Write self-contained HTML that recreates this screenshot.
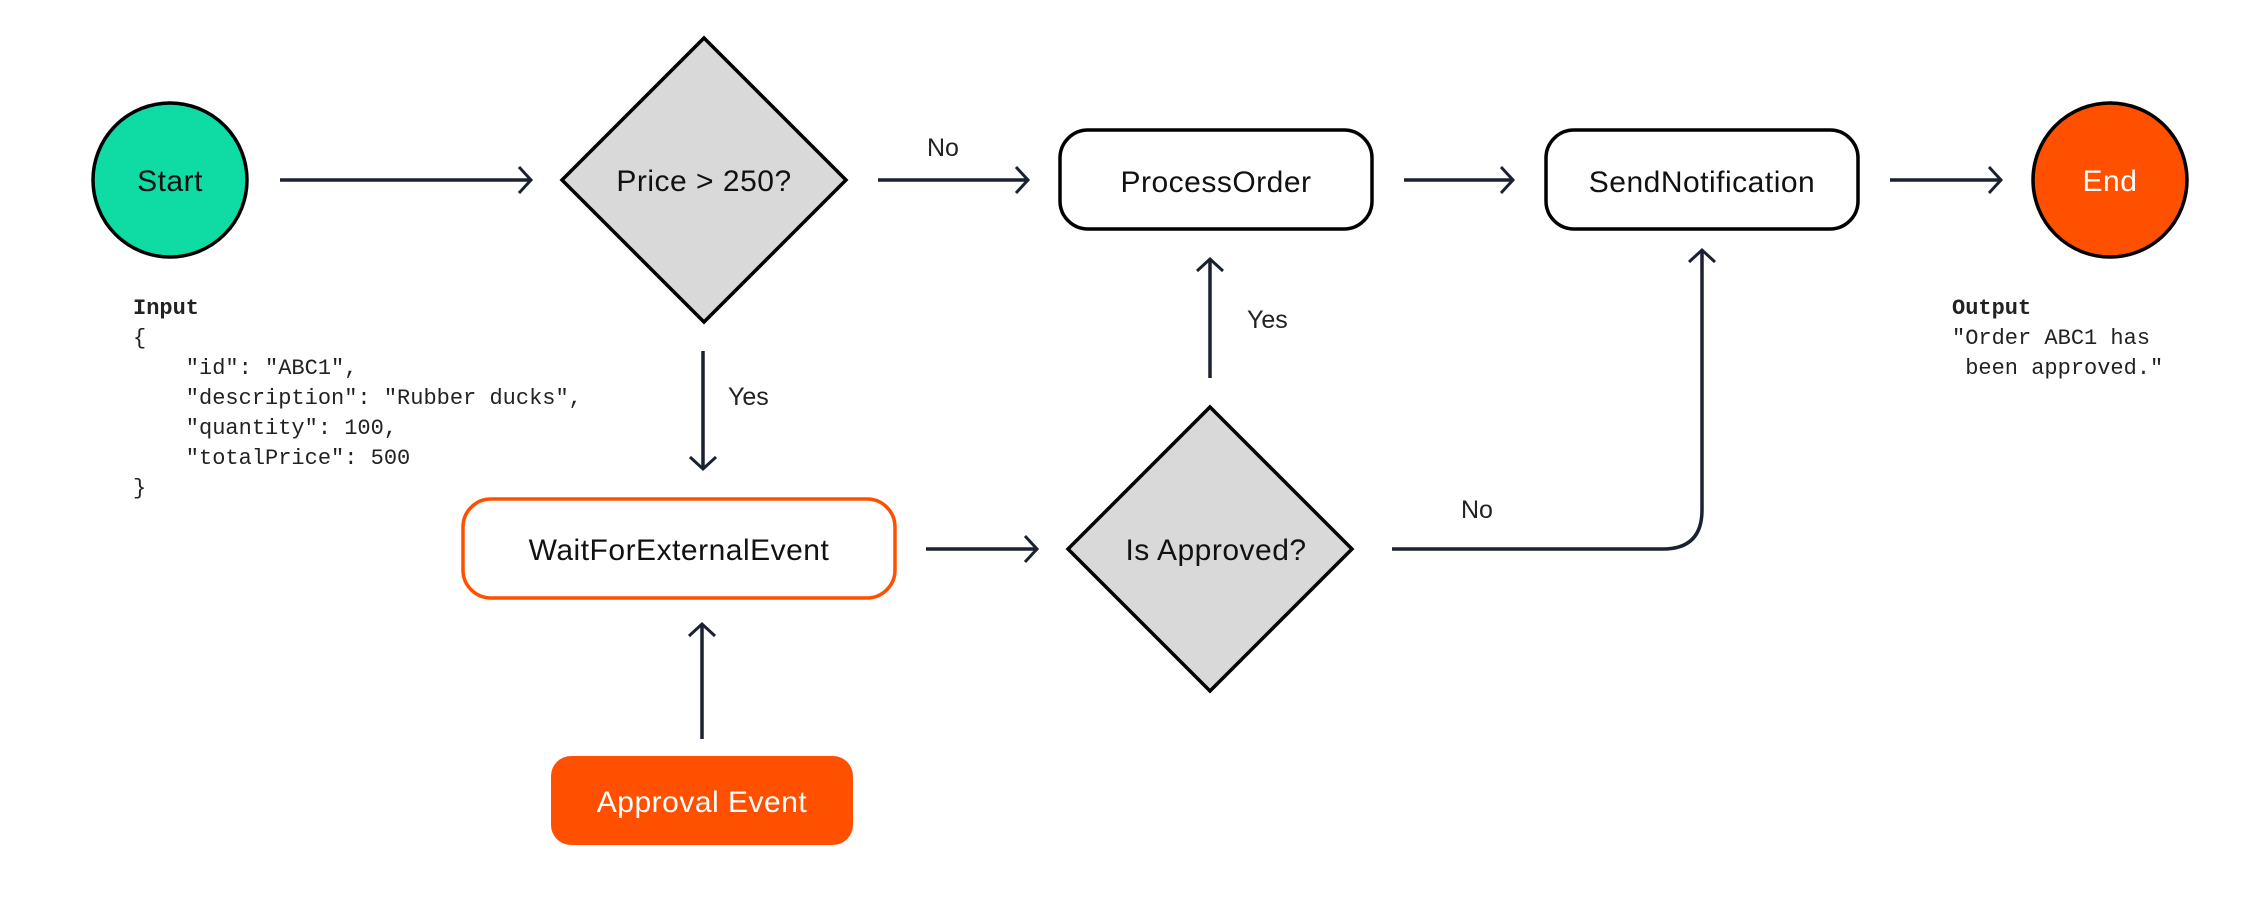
<!DOCTYPE html>
<html><head><meta charset="utf-8"><style>
html,body{margin:0;padding:0;background:#fff;}
body{width:2264px;height:910px;overflow:hidden;}
svg text{font-family:"Liberation Sans",sans-serif;}
.m{font-family:"Liberation Mono",monospace;font-size:22px;fill:#222;}
</style></head><body>
<svg width="2264" height="910" viewBox="0 0 2264 910" xmlns="http://www.w3.org/2000/svg">
<defs>
<marker id="a" markerWidth="20" markerHeight="30" refX="14" refY="15" orient="auto" markerUnits="userSpaceOnUse">
<path d="M2,2 L14,15 L2,28" fill="none" stroke="#1a2130" stroke-width="3"/>
</marker>
</defs>
<g stroke="#1a2130" stroke-width="3.5" fill="none">
<line x1="280" y1="180" x2="531" y2="180" marker-end="url(#a)"/>
<line x1="878" y1="180" x2="1028" y2="180" marker-end="url(#a)"/>
<line x1="1404" y1="180" x2="1513" y2="180" marker-end="url(#a)"/>
<line x1="1890" y1="180" x2="2001" y2="180" marker-end="url(#a)"/>
<line x1="703" y1="351" x2="703" y2="469" marker-end="url(#a)"/>
<line x1="926" y1="549" x2="1037" y2="549" marker-end="url(#a)"/>
<line x1="1210" y1="378" x2="1210" y2="259" marker-end="url(#a)"/>
<path d="M1392,549 L1663,549 Q1702,549 1702,510 L1702,250" marker-end="url(#a)"/>
<line x1="702" y1="739" x2="702" y2="624" marker-end="url(#a)"/>
</g>
<circle cx="170" cy="180" r="77" fill="#0fdca4" stroke="#000" stroke-width="3.5"/>
<circle cx="2110" cy="180" r="77" fill="#ff5000" stroke="#000" stroke-width="3.5"/>
<polygon points="704,38 846,180 704,322 562,180" fill="#d9d9d9" stroke="#000" stroke-width="3.5"/>
<polygon points="1210,407 1352,549 1210,691 1068,549" fill="#d9d9d9" stroke="#000" stroke-width="3.5"/>
<rect x="1060" y="130" width="312" height="99" rx="28" fill="#fff" stroke="#000" stroke-width="3.5"/>
<rect x="1546" y="130" width="312" height="99" rx="28" fill="#fff" stroke="#000" stroke-width="3.5"/>
<rect x="463" y="499" width="432" height="99" rx="28" fill="#fff" stroke="#ff5000" stroke-width="3.5"/>
<rect x="551" y="756" width="302" height="89" rx="20" fill="#ff5000"/>
<g font-size="30" text-anchor="middle" fill="#111" letter-spacing="0.5">
<text x="170" y="191">Start</text>
<text x="2110" y="191" fill="#fff">End</text>
<text x="704" y="191">Price &gt; 250?</text>
<text x="1216" y="560">Is Approved?</text>
<text x="1216" y="192">ProcessOrder</text>
<text x="1702" y="192">SendNotification</text>
<text x="679" y="560">WaitForExternalEvent</text>
<text x="702" y="812" fill="#fff">Approval Event</text>
</g>
<g font-size="25" fill="#222">
<text x="927" y="156">No</text>
<text x="728" y="405">Yes</text>
<text x="1247" y="328">Yes</text>
<text x="1461" y="518">No</text>
</g>
<text class="m" x="133" y="314" font-weight="bold" fill="#1a2130">Input</text>
<text class="m" x="133" y="344">{</text>
<text class="m" x="133" y="374" xml:space="preserve">    "id": "ABC1",</text>
<text class="m" x="133" y="404" xml:space="preserve">    "description": "Rubber ducks",</text>
<text class="m" x="133" y="434" xml:space="preserve">    "quantity": 100,</text>
<text class="m" x="133" y="464" xml:space="preserve">    "totalPrice": 500</text>
<text class="m" x="133" y="494">}</text>
<text class="m" x="1952" y="314" font-weight="bold" fill="#1a2130">Output</text>
<text class="m" x="1952" y="344">"Order ABC1 has</text>
<text class="m" x="1952" y="374" xml:space="preserve"> been approved."</text>
</svg>
</body></html>
